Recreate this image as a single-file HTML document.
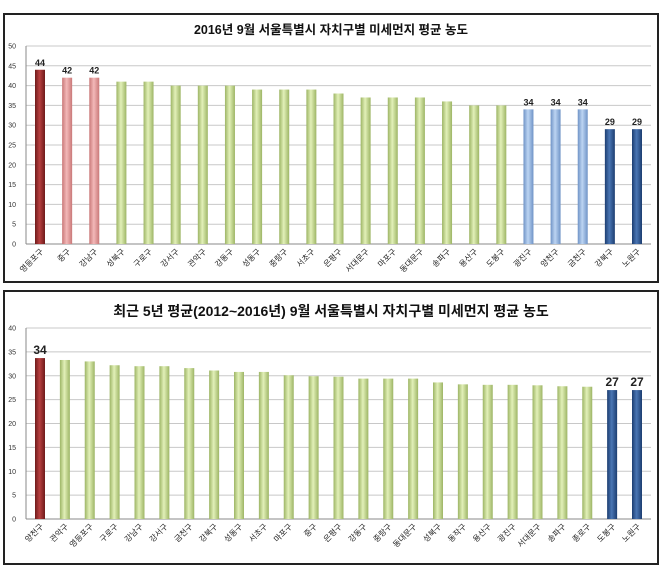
<!DOCTYPE html>
<html><head><meta charset="utf-8"><style>
body{margin:0;background:#fff;width:661px;height:575px;overflow:hidden}
svg{font-family:"Liberation Sans","Noto Sans CJK KR",sans-serif}
</style></head><body>
<svg id="svg" width="661" height="575">
<defs>
<linearGradient id="gR" x1="0" x2="1"><stop offset="0" stop-color="#6e1a1a"/><stop offset=".45" stop-color="#b84040"/><stop offset="1" stop-color="#6e1a1a"/></linearGradient>
<linearGradient id="gP" x1="0" x2="1"><stop offset="0" stop-color="#c97878"/><stop offset=".45" stop-color="#f3b8b8"/><stop offset="1" stop-color="#c97878"/></linearGradient>
<linearGradient id="gG" x1="0" x2="1"><stop offset="0" stop-color="#9db565"/><stop offset=".45" stop-color="#e2f0b8"/><stop offset="1" stop-color="#9db565"/></linearGradient>
<linearGradient id="gL" x1="0" x2="1"><stop offset="0" stop-color="#6f93c6"/><stop offset=".45" stop-color="#bcd4f2"/><stop offset="1" stop-color="#6f93c6"/></linearGradient>
<linearGradient id="gB" x1="0" x2="1"><stop offset="0" stop-color="#1c3d70"/><stop offset=".45" stop-color="#4a76b4"/><stop offset="1" stop-color="#1c3d70"/></linearGradient>
</defs>
</svg>
<script>
const cats1=["영등포구","중구","강남구","성북구","구로구","강서구","관악구","강동구","성동구","중랑구","서초구","은평구","서대문구","마포구","동대문구","송파구","용산구","도봉구","광진구","양천구","금천구","강북구","노원구"];
const vals1=[44,42,42,41,41,40,40,40,39,39,39,38,37,37,37,36,35,35,34,34,34,29,29];
const cols1=["R","P","P","G","G","G","G","G","G","G","G","G","G","G","G","G","G","G","L","L","L","B","B"];
const labels1=[44,42,42,null,null,null,null,null,null,null,null,null,null,null,null,null,null,null,34,34,34,29,29];
const ticks1=[0,5,10,15,20,25,30,35,40,45,50];
const cats2=["양천구","관악구","영등포구","구로구","강남구","강서구","금천구","강북구","성동구","서초구","마포구","중구","은평구","강동구","중랑구","동대문구","성북구","동작구","용산구","광진구","서대문구","송파구","종로구","도봉구","노원구"];
const vals2=[33.7,33.3,33,32.2,32,32,31.6,31.1,30.8,30.8,30.1,29.9,29.8,29.4,29.4,29.4,28.6,28.2,28.1,28.1,28,27.8,27.7,27,27];
const cols2=["R","G","G","G","G","G","G","G","G","G","G","G","G","G","G","G","G","G","G","G","G","G","G","B","B"];
const labels2=[34,null,null,null,null,null,null,null,null,null,null,null,null,null,null,null,null,null,null,null,null,null,null,27,27];
const ticks2=[0,5,10,15,20,25,30,35,40];
const NS="http://www.w3.org/2000/svg",svg=document.getElementById('svg');
function mk(t,a,p){const e=document.createElementNS(NS,t);for(const k in a)e.setAttribute(k,a[k]);(p||svg).appendChild(e);return e;}
function chart(o){
 const g=mk('g',{});
 
 
 const fr=mk('rect',{x:4,y:o.top,width:654,height:o.h,fill:'#fff',stroke:'#222','stroke-width':2},g);
 
 const t=mk('text',{x:331,y:o.titleY,'text-anchor':'middle','font-size':o.tsize,'font-weight':'bold',fill:'#111'},g);
 t.textContent=o.title;
 const max=o.ticks[o.ticks.length-1];
 const y=v=>o.y0-(o.y0-o.yTop)*v/max;
 const n=o.cats.length,x=i=>o.x0+(o.x1-o.x0)*i/(n-1);
 o.ticks.forEach(v=>{
  const l=mk('line',{x1:26,x2:651,y1:y(v),y2:y(v),stroke:v?'#c8c8c8':'#888','stroke-width':1},g);
  
  const tx=mk('text',{x:16,y:y(v)+2.5,'text-anchor':'end','font-size':7,fill:'#333'},g);
  tx.textContent=v;
 });
 mk('line',{x1:26,x2:26,y1:o.yTop,y2:o.y0,stroke:'#888'},g);
 o.vals.forEach((v,i)=>{
  const cx=x(i),bw=10;
  const b=mk('rect',{x:cx-bw/2,y:y(v),width:bw,height:o.y0-y(v),fill:'url(#g'+o.cols[i]+')'},g);
  
  if(o.labels[i]!=null){
   const lt=mk('text',{x:cx,y:y(v)-4,'text-anchor':'middle','font-size':o.lsize,'font-weight':'bold',fill:'#222'},g);
   lt.textContent=o.labels[i];
  }
  const ct=mk('text',{x:cx+4,y:o.y0+8,'text-anchor':'end','font-size':8,fill:'#222',transform:`rotate(-45 ${cx+4} ${o.y0+8})`},g);
  ct.textContent=o.cats[i];
 });
}
chart({name:'chart-2016-september',top:14,h:268,titleY:34,tsize:12.5,title:'2016년 9월 서울특별시 자치구별 미세먼지 평균 농도',cats:cats1,vals:vals1,cols:cols1,labels:labels1,ticks:ticks1,y0:244,yTop:46,x0:40,x1:637,lsize:9});
chart({name:'chart-5yr-average',top:291,h:273,titleY:316,tsize:14,title:'최근 5년 평균(2012~2016년) 9월 서울특별시 자치구별 미세먼지 평균 농도',cats:cats2,vals:vals2,cols:cols2,labels:labels2,ticks:ticks2,y0:519,yTop:328,x0:40,x1:637,lsize:12});
</script>
</body></html>
